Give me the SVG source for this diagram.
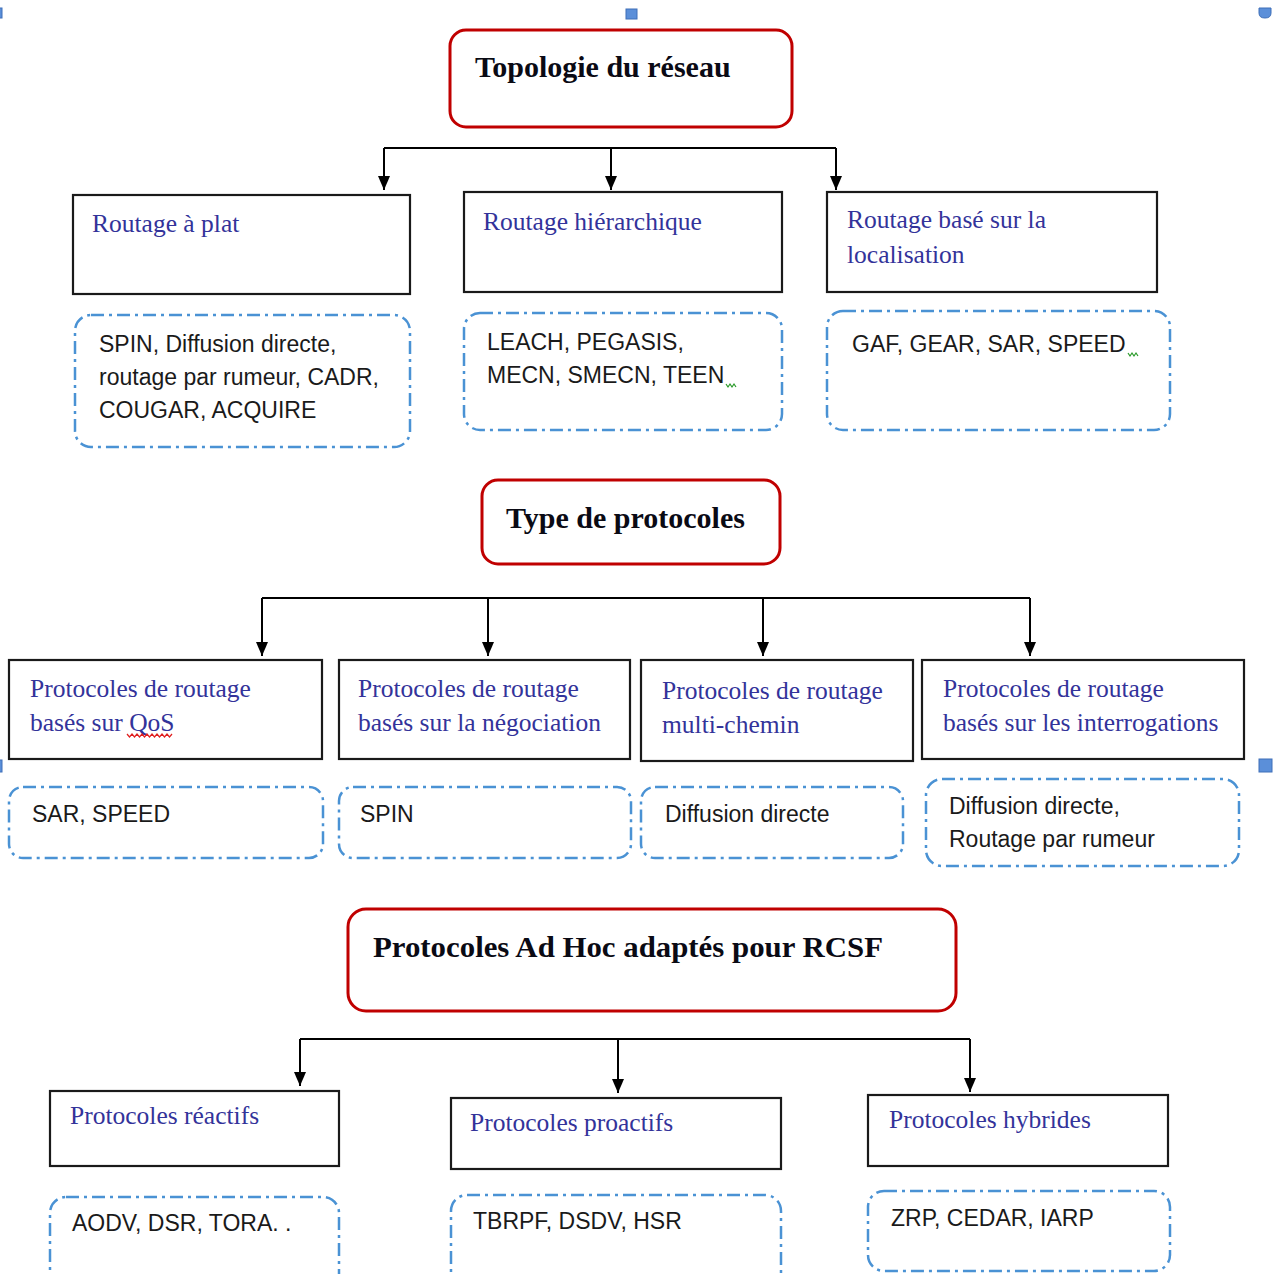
<svg xmlns="http://www.w3.org/2000/svg" width="1279" height="1274" viewBox="0 0 1279 1274">
  <defs>
    <marker id="arrow" viewBox="0 0 14 12" refX="14" refY="6" markerWidth="14" markerHeight="12" markerUnits="userSpaceOnUse" orient="auto">
      <path d="M0,0 L14,6 L0,12 Z" fill="#000"/>
    </marker>
    <style>
      .title-box { fill: #fff; stroke: #c00000; stroke-width: 3; }
      .title { font-family: "Liberation Serif", "Times New Roman", serif; font-weight: bold; font-size: 30px; fill: #0a0a14; }
      .cat-box { fill: #fff; stroke: #1a1a1a; stroke-width: 2.2; }
      .cat { font-family: "Liberation Serif", "Times New Roman", serif; font-size: 25.5px; fill: #33339a; }
      .list-box { fill: none; stroke: #4a92d4; stroke-width: 2.5; stroke-dasharray: 13 5 3 5; }
      .list { font-family: "Liberation Sans", Arial, sans-serif; font-size: 23px; fill: #1a1a1a; }
      .link { fill: none; stroke: #000; stroke-width: 2; }
      .handle { fill: #5b8fd9; stroke: #3f6fb8; stroke-width: 1; }
    </style>
  </defs>

  <rect width="1279" height="1274" fill="#fff"/>

  <!-- editor selection handles -->
  <g id="handles">
    <rect class="handle" x="626" y="9" width="11" height="10"/>
    <path class="handle" d="M1259,8 H1271 V13 Q1271,18 1265,18 Q1259,18 1259,13 Z"/>
    <rect class="handle" x="-1" y="8" width="3" height="10"/>
    <rect class="handle" x="1259" y="759" width="13" height="13"/>
    <rect class="handle" x="-1" y="760" width="3" height="12"/>
  </g>

  <!-- connectors -->
  <g id="connectors">
    <path class="link" d="M384,148 H836"/>
    <path class="link" d="M384,148 V190" marker-end="url(#arrow)"/>
    <path class="link" d="M611,148 V190" marker-end="url(#arrow)"/>
    <path class="link" d="M836,148 V190" marker-end="url(#arrow)"/>

    <path class="link" d="M262,598 H1030"/>
    <path class="link" d="M262,598 V656" marker-end="url(#arrow)"/>
    <path class="link" d="M488,598 V656" marker-end="url(#arrow)"/>
    <path class="link" d="M763,598 V656" marker-end="url(#arrow)"/>
    <path class="link" d="M1030,598 V656" marker-end="url(#arrow)"/>

    <path class="link" d="M300,1039 H970"/>
    <path class="link" d="M300,1039 V1086" marker-end="url(#arrow)"/>
    <path class="link" d="M618,1039 V1093" marker-end="url(#arrow)"/>
    <path class="link" d="M970,1039 V1092" marker-end="url(#arrow)"/>
  </g>

  <!-- section 1: topology -->
  <g id="topologie">
    <rect class="title-box" x="450" y="30" width="342" height="97" rx="16"/>
    <text class="title" x="475" y="77">Topologie du réseau</text>
  </g>
  <g id="routage-plat">
    <rect class="cat-box" x="73" y="195" width="337" height="99"/>
    <text class="cat" x="92" y="232">Routage à plat</text>
  </g>
  <g id="routage-hierarchique">
    <rect class="cat-box" x="464" y="192" width="318" height="100"/>
    <text class="cat" x="483" y="230">Routage hiérarchique</text>
  </g>
  <g id="routage-localisation">
    <rect class="cat-box" x="827" y="192" width="330" height="100"/>
    <text class="cat" x="847" y="228">Routage basé sur la</text>
    <text class="cat" x="847" y="263">localisation</text>
  </g>
  <g id="liste-plat">
    <rect class="list-box" x="75" y="315" width="335" height="132" rx="16"/>
    <text class="list" x="99" y="352">SPIN, Diffusion directe,</text>
    <text class="list" x="99" y="385">routage par rumeur, CADR,</text>
    <text class="list" x="99" y="418">COUGAR, ACQUIRE</text>
  </g>
  <g id="liste-hierarchique">
    <rect class="list-box" x="464" y="313" width="318" height="117" rx="16"/>
    <text class="list" x="487" y="350">LEACH, PEGASIS,</text>
    <text class="list" x="487" y="383">MECN, SMECN, TEEN</text>
    <path d="M726,384 l2,3 l2,-3 l2,3 l2,-3 l2,3" fill="none" stroke="#2a9a2a" stroke-width="1.2"/>
  </g>
  <g id="liste-localisation">
    <rect class="list-box" x="827" y="311" width="343" height="119" rx="16"/>
    <text class="list" x="852" y="352">GAF, GEAR, SAR, SPEED</text>
    <path d="M1128,353 l2,3 l2,-3 l2,3 l2,-3 l2,3" fill="none" stroke="#2a9a2a" stroke-width="1.2"/>
  </g>

  <!-- section 2: protocol type -->
  <g id="type-protocoles">
    <rect class="title-box" x="482" y="480" width="298" height="84" rx="16"/>
    <text class="title" x="506" y="528">Type de protocoles</text>
  </g>
  <g id="qos">
    <rect class="cat-box" x="9" y="660" width="313" height="99"/>
    <text class="cat" x="30" y="697">Protocoles de routage</text>
    <text class="cat" x="30" y="731">basés sur QoS</text>
    <path d="M127,734 l2.5,3 l2.5,-3 l2.5,3 l2.5,-3 l2.5,3 l2.5,-3 l2.5,3 l2.5,-3 l2.5,3 l2.5,-3 l2.5,3 l2.5,-3 l2.5,3 l2.5,-3 l2.5,3 l2.5,-3 l2.5,3 l2.5,-3" fill="none" stroke="#e02020" stroke-width="1.2"/>
  </g>
  <g id="negociation">
    <rect class="cat-box" x="339" y="660" width="291" height="99"/>
    <text class="cat" x="358" y="697">Protocoles de routage</text>
    <text class="cat" x="358" y="731">basés sur la négociation</text>
  </g>
  <g id="multi-chemin">
    <rect class="cat-box" x="641" y="660" width="272" height="101"/>
    <text class="cat" x="662" y="699">Protocoles de routage</text>
    <text class="cat" x="662" y="733">multi-chemin</text>
  </g>
  <g id="interrogations">
    <rect class="cat-box" x="922" y="660" width="322" height="99"/>
    <text class="cat" x="943" y="697">Protocoles de routage</text>
    <text class="cat" x="943" y="731">basés sur les  interrogations</text>
  </g>
  <g id="liste-qos">
    <rect class="list-box" x="9" y="787" width="314" height="71" rx="14"/>
    <text class="list" x="32" y="822">SAR, SPEED</text>
  </g>
  <g id="liste-negociation">
    <rect class="list-box" x="339" y="787" width="292" height="71" rx="14"/>
    <text class="list" x="360" y="822">SPIN</text>
  </g>
  <g id="liste-multi-chemin">
    <rect class="list-box" x="641" y="787" width="262" height="71" rx="14"/>
    <text class="list" x="665" y="822">Diffusion directe</text>
  </g>
  <g id="liste-interrogations">
    <rect class="list-box" x="926" y="779" width="313" height="87" rx="16"/>
    <text class="list" x="949" y="814">Diffusion directe,</text>
    <text class="list" x="949" y="847">Routage par rumeur</text>
  </g>

  <!-- section 3: ad hoc protocols -->
  <g id="adhoc">
    <rect class="title-box" x="348" y="909" width="608" height="102" rx="18"/>
    <text class="title" x="373" y="957" textLength="510" lengthAdjust="spacingAndGlyphs">Protocoles Ad Hoc adaptés pour RCSF</text>
  </g>
  <g id="reactifs">
    <rect class="cat-box" x="50" y="1091" width="289" height="75"/>
    <text class="cat" x="70" y="1124">Protocoles réactifs</text>
  </g>
  <g id="proactifs">
    <rect class="cat-box" x="451" y="1098" width="330" height="71"/>
    <text class="cat" x="470" y="1131">Protocoles proactifs</text>
  </g>
  <g id="hybrides">
    <rect class="cat-box" x="868" y="1095" width="300" height="71"/>
    <text class="cat" x="889" y="1128">Protocoles hybrides</text>
  </g>
  <g id="liste-reactifs">
    <rect class="list-box" x="50" y="1197" width="289" height="100" rx="16"/>
    <text class="list" x="72" y="1231">AODV, DSR, TORA. .</text>
  </g>
  <g id="liste-proactifs">
    <rect class="list-box" x="451" y="1195" width="330" height="100" rx="16"/>
    <text class="list" x="473" y="1229">TBRPF, DSDV, HSR</text>
  </g>
  <g id="liste-hybrides">
    <rect class="list-box" x="868" y="1191" width="302" height="80" rx="16"/>
    <text class="list" x="891" y="1226">ZRP, CEDAR, IARP</text>
  </g>
</svg>
